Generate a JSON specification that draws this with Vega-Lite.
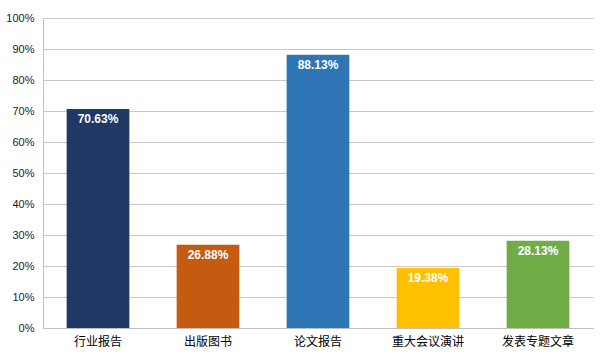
{
  "$schema": "https://vega.github.io/schema/vega-lite/v6.json",
  "width": 550,
  "height": 310,
  "autosize": "none",
  "padding": {"left": 43, "top": 18, "right": 7, "bottom": 27},
  "background": "white",
  "config": {"view": {"stroke": null}, "font": "Noto Sans CJK SC"},
  "data": {"values": [
    {"category": "行业报告", "value": 0.7063},
    {"category": "出版图书", "value": 0.2688},
    {"category": "论文报告", "value": 0.8813},
    {"category": "重大会议演讲", "value": 0.1938},
    {"category": "发表专题文章", "value": 0.2813}
  ]},
  "encoding": {
    "x": {"field": "category", "type": "nominal", "sort": null,
      "scale": {"paddingInner": 0.43, "paddingOuter": 0.215},
      "axis": {"title": null, "labelAngle": 0, "ticks": false, "domainColor": "#bfbfbf", "labelFontSize": 12, "labelColor": "#000000", "labelPadding": 8, "labelFont": "Noto Sans CJK SC"}},
    "y": {"field": "value", "type": "quantitative",
      "scale": {"domain": [0, 1]},
      "axis": {"title": null, "format": ".0%", "values": [0,0.1,0.2,0.3,0.4,0.5,0.6,0.7,0.8,0.9,1], "labelOverlap": false, "labelFlush": false, "ticks": false, "domainColor": "#bfbfbf", "gridColor": "#c8c8c8", "labelFontSize": 11, "labelColor": "#222222", "labelPadding": 9, "labelFont": "Liberation Sans"}}
  },
  "layer": [
    {"mark": {"type": "bar"},
     "encoding": {"color": {"field": "category", "type": "nominal", "legend": null, "sort": null,
       "scale": {"domain": ["行业报告", "出版图书", "论文报告", "重大会议演讲", "发表专题文章"], "range": ["#1F3864", "#C55A11", "#2E75B6", "#FFC000", "#70AD47"]}}}},
    {"mark": {"type": "text", "baseline": "top", "dy": 5, "color": "white", "fontWeight": "bold", "fontSize": 12, "font": "Liberation Sans"},
     "encoding": {"text": {"field": "value", "type": "quantitative", "format": ".2%"}}}
  ]
}
